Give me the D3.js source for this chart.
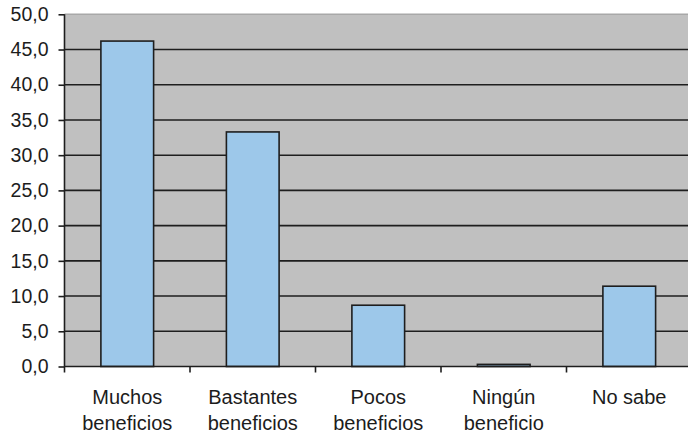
<!DOCTYPE html>
<html>
<head>
<meta charset="utf-8">
<script src="https://cdn.jsdelivr.net/npm/d3@7"></script>
<style>
  html, body { margin: 0; padding: 0; background: #fff; }
  svg { display: block; }
  text { font-family: "Liberation Sans", Arial, sans-serif; fill: #1c1c1c; }
</style>
</head>
<body>
<svg id="chart" width="688" height="439"></svg>
<script>
// Opinion about benefits, percentage of responses
const categories = [["Muchos", "beneficios"], ["Bastantes", "beneficios"], ["Pocos", "beneficios"], ["Ningún", "beneficio"], ["No sabe"]];
const values = [46.2, 33.3, 8.7, 0.3, 11.4];
const yTicks = [0, 5, 10, 15, 20, 25, 30, 35, 40, 45, 50];

const svg = d3.select("#chart");
const plotLeft = 64.5, plotRight = 692, plotTop = 14.3, plotBottom = 366.5;

const keys = categories.map((c, i) => i);
const x = d3.scaleBand().domain(keys).range([plotLeft, plotRight])
  .paddingInner(0.58).paddingOuter(0.29);
const y = d3.scaleLinear().domain([0, 50]).range([plotBottom, plotTop]);

// plot background
svg.append("rect")
  .attr("x", plotLeft).attr("y", plotTop)
  .attr("width", plotRight - plotLeft).attr("height", plotBottom - plotTop)
  .attr("fill", "#c0c0c0");

// top border of plot area
svg.append("line")
  .attr("x1", plotLeft).attr("x2", plotRight)
  .attr("y1", plotTop).attr("y2", plotTop)
  .attr("stroke", "#a8a8a8").attr("stroke-width", 1.5);

// horizontal gridlines
svg.append("g").selectAll("line")
  .data(yTicks.filter(t => t > 0 && t < 50))
  .join("line")
  .attr("x1", plotLeft).attr("x2", plotRight)
  .attr("y1", d => y(d)).attr("y2", d => y(d))
  .attr("stroke", "#1e1e1e").attr("stroke-width", 1.6);

// bars
svg.append("g").selectAll("rect")
  .data(values)
  .join("rect")
  .attr("x", (d, i) => x(i))
  .attr("y", d => y(d))
  .attr("width", x.bandwidth())
  .attr("height", d => y(0) - y(d))
  .attr("fill", "#9dc8ea")
  .attr("stroke", "#1e1e1e").attr("stroke-width", 1.6);

// y axis
const yAxis = d3.axisLeft(y)
  .tickValues(yTicks)
  .tickSize(6)
  .tickPadding(10)
  .tickFormat(d => d3.format(".1f")(d).replace(".", ","));
const gy = svg.append("g").attr("transform", `translate(${plotLeft},0)`).call(yAxis);
gy.select(".domain").remove();
gy.selectAll(".tick line").attr("stroke", "#1e1e1e").attr("stroke-width", 1.6);
gy.selectAll(".tick text").attr("font-size", 19.5).attr("fill", "#1c1c1c");
gy.append("line")
  .attr("x1", 0).attr("x2", 0)
  .attr("y1", plotTop).attr("y2", plotBottom + 6)
  .attr("stroke", "#1e1e1e").attr("stroke-width", 1.6);

// x axis line and boundary ticks
svg.append("line")
  .attr("x1", plotLeft).attr("x2", plotRight)
  .attr("y1", plotBottom).attr("y2", plotBottom)
  .attr("stroke", "#1e1e1e").attr("stroke-width", 1.6);
const step = x.step();
const bounds = d3.range(1, categories.length + 1).map(i => plotLeft + i * step);
svg.append("g").selectAll("line")
  .data(bounds)
  .join("line")
  .attr("x1", d => d).attr("x2", d => d)
  .attr("y1", plotBottom).attr("y2", plotBottom + 6)
  .attr("stroke", "#1e1e1e").attr("stroke-width", 1.6);

// category labels
const labels = svg.append("g").selectAll("text")
  .data(categories)
  .join("text")
  .attr("x", (d, i) => x(i) + x.bandwidth() / 2)
  .attr("y", 404)
  .attr("text-anchor", "middle")
  .attr("font-size", 20);
labels.selectAll("tspan")
  .data(d => d)
  .join("tspan")
  .attr("x", function() { return this.parentNode.getAttribute("x"); })
  .attr("dy", (d, i) => i === 0 ? 0 : 26)
  .text(d => d);
</script>
</body>
</html>
